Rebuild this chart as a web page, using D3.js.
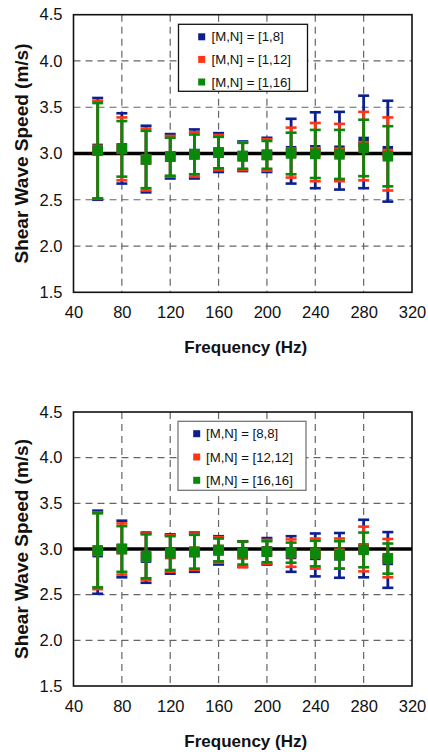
<!DOCTYPE html>
<html>
<head>
<meta charset="utf-8">
<script src="https://cdn.jsdelivr.net/npm/d3@7"></script>
<style>
  html, body { margin: 0; padding: 0; background: #fff; }
  svg { display: block; }
  text { font-family: Arial, "Liberation Sans", sans-serif; fill: #111; }
</style>
</head>
<body>
<script>
// Frequencies (Hz) shared by both panels
const freqs = [60, 80, 100, 120, 140, 160, 180, 200, 220, 240, 260, 280, 300];

// Panel A: [M,N] = [1,N] — mean shear wave speed and half-width of the error bar (m/s)
const meanA1 = [3.05, 3.055, 2.94, 2.97, 2.995, 3.01, 2.97, 2.985, 3.025, 3.035, 3.03, 3.125, 3.025];
const errA1  = [0.55, 0.38, 0.36, 0.24, 0.265, 0.21, 0.16, 0.185, 0.35, 0.41, 0.42, 0.50, 0.545];
const meanA2 = [3.04, 3.05, 2.935, 2.97, 2.99, 3.01, 2.97, 2.985, 3.01, 3.015, 3.01, 3.08, 2.995];
const errA2  = [0.53, 0.34, 0.335, 0.22, 0.24, 0.19, 0.15, 0.17, 0.27, 0.315, 0.31, 0.37, 0.395];
const meanA3 = [3.03, 3.05, 2.935, 2.965, 2.99, 3.01, 2.975, 2.985, 3.0, 2.995, 2.99, 3.06, 2.97];
const errA3  = [0.515, 0.30, 0.31, 0.205, 0.215, 0.17, 0.14, 0.15, 0.225, 0.26, 0.265, 0.305, 0.325];

// Panel B: [M,N] = [N,N]
const meanB1 = [2.965, 3.0, 2.905, 2.945, 2.965, 2.985, 2.945, 2.975, 2.945, 2.935, 2.93, 3.005, 2.88];
const errB1  = [0.455, 0.31, 0.275, 0.215, 0.215, 0.155, 0.14, 0.145, 0.195, 0.235, 0.245, 0.315, 0.305];
const meanB2 = [2.98, 3.0, 2.915, 2.95, 2.97, 2.99, 2.94, 2.97, 2.955, 2.95, 2.95, 3.0, 2.90];
const errB2  = [0.42, 0.28, 0.255, 0.20, 0.20, 0.14, 0.14, 0.13, 0.15, 0.165, 0.165, 0.245, 0.21];
const meanB3 = [2.985, 3.0, 2.92, 2.955, 2.97, 2.99, 2.955, 2.97, 2.96, 2.95, 2.935, 2.99, 2.895];
const errB3  = [0.405, 0.25, 0.24, 0.185, 0.185, 0.125, 0.125, 0.115, 0.11, 0.14, 0.15, 0.19, 0.165];

const labelsA = ["[M,N] = [1,8]", "[M,N] = [1,12]", "[M,N] = [1,16]"];
const labelsB = ["[M,N] = [8,8]", "[M,N] = [12,12]", "[M,N] = [16,16]"];

const xTicks = [40, 80, 120, 160, 200, 240, 280, 320];
const yTicks = [1.5, 2.0, 2.5, 3.0, 3.5, 4.0, 4.5];
const refSpeed = 3.0;

const colors = ["#0b1f8f", "#ff3514", "#0a880a"];

const W = 428, H = 752;
const svg = d3.select("body").append("svg").attr("width", W).attr("height", H);

function panel(opts) {
  const { top, bottom, series, labels, legend } = opts;
  const left = 73.5, right = 412;
  const x = d3.scaleLinear().domain([40, 320]).range([left, right]);
  const y = d3.scaleLinear().domain([1.5, 4.5]).range([bottom, top]);
  const g = svg.append("g");

  // dashed grid
  g.append("g").selectAll("line").data(xTicks.slice(1, -1)).join("line")
    .attr("x1", d => x(d)).attr("x2", d => x(d))
    .attr("y1", top).attr("y2", bottom)
    .attr("stroke", "#666").attr("stroke-width", 1.2).attr("stroke-dasharray", "7,5");
  g.append("g").selectAll("line").data(yTicks.slice(1, -1)).join("line")
    .attr("x1", left).attr("x2", right)
    .attr("y1", d => y(d)).attr("y2", d => y(d))
    .attr("stroke", "#666").attr("stroke-width", 1.2).attr("stroke-dasharray", "7,5");

  // axes (labels only, frame drawn separately)
  const xAxis = d3.axisBottom(x).tickValues(xTicks).tickSize(0).tickPadding(14).tickFormat(d3.format("d"));
  const yAxis = d3.axisLeft(y).tickValues(yTicks).tickSize(0).tickPadding(11).tickFormat(d3.format(".1f"));
  const gx = g.append("g").attr("transform", `translate(0,${bottom})`).call(xAxis);
  const gy = g.append("g").attr("transform", `translate(${left},0)`).call(yAxis);
  [gx, gy].forEach(a => {
    a.select(".domain").remove();
    a.selectAll("text").attr("font-size", 16.5).attr("fill", "#111")
      .style("font-family", 'Arial, "Liberation Sans", sans-serif');
  });

  // plot frame
  g.append("rect").attr("x", left).attr("y", top)
    .attr("width", right - left).attr("height", bottom - top)
    .attr("fill", "none").attr("stroke", "#111").attr("stroke-width", 1.6);

  // reference speed line
  g.append("line").attr("x1", left).attr("x2", right)
    .attr("y1", y(refSpeed)).attr("y2", y(refSpeed))
    .attr("stroke", "#000").attr("stroke-width", 3.6);

  // error bars + square markers, drawn blue -> red -> green
  const capW = 11, mk = 10.5;
  series.forEach((s, si) => {
    const c = colors[si];
    const pts = freqs.map((f, i) => ({ f, m: s.mean[i], e: s.err[i] }));
    const sg = g.append("g");
    sg.selectAll(".stem").data(pts).join("line")
      .attr("x1", d => x(d.f)).attr("x2", d => x(d.f))
      .attr("y1", d => y(d.m + d.e)).attr("y2", d => y(d.m - d.e))
      .attr("stroke", c).attr("stroke-width", 2.8);
    ["hi", "lo"].forEach(k => {
      sg.selectAll(".cap-" + k).data(pts).join("line")
        .attr("x1", d => x(d.f) - capW / 2).attr("x2", d => x(d.f) + capW / 2)
        .attr("y1", d => y(k === "hi" ? d.m + d.e : d.m - d.e))
        .attr("y2", d => y(k === "hi" ? d.m + d.e : d.m - d.e))
        .attr("stroke", c).attr("stroke-width", 2.6);
    });
    sg.selectAll("rect").data(pts).join("rect")
      .attr("x", d => x(d.f) - mk / 2).attr("y", d => y(d.m) - mk / 2)
      .attr("width", mk).attr("height", mk).attr("fill", c);
  });

  // legend
  const lg = g.append("g");
  lg.append("rect").attr("x", legend.x).attr("y", legend.y)
    .attr("width", legend.w).attr("height", legend.h)
    .attr("fill", "#fff").attr("stroke", legend.stroke).attr("stroke-width", 1.3);
  labels.forEach((t, i) => {
    const cy = legend.y + legend.row0 + i * legend.dy;
    lg.append("rect").attr("x", legend.mx - 3.5).attr("y", cy - 3.5)
      .attr("width", 7).attr("height", 7).attr("fill", colors[i]);
    lg.append("text").attr("x", legend.tx).attr("y", cy)
      .attr("dominant-baseline", "central").attr("font-size", 13.2).text(t);
  });

  // axis titles
  g.append("text").attr("x", (left + right) / 2 + 3).attr("y", bottom + 55)
    .attr("text-anchor", "middle").attr("dominant-baseline", "central")
    .attr("font-size", 17).attr("font-weight", "bold").text("Frequency (Hz)");
  g.append("text")
    .attr("transform", `translate(28,${(top + bottom) / 2}) rotate(-90)`)
    .attr("text-anchor", "middle")
    .attr("font-size", 19).attr("font-weight", "bold").text("Shear Wave Speed (m/s)");
}

panel({
  top: 14.7, bottom: 292.3,
  series: [{ mean: meanA1, err: errA1 }, { mean: meanA2, err: errA2 }, { mean: meanA3, err: errA3 }],
  labels: labelsA,
  legend: { x: 178.5, y: 24.3, w: 129, h: 67, row0: 12.5, dy: 22.6, mx: 201.7, tx: 211.5, stroke: "#111" }
});

panel({
  top: 412, bottom: 686,
  series: [{ mean: meanB1, err: errB1 }, { mean: meanB2, err: errB2 }, { mean: meanB3, err: errB3 }],
  labels: labelsB,
  legend: { x: 178, y: 421.3, w: 128, h: 69, row0: 12.4, dy: 23.3, mx: 196.7, tx: 206, stroke: "#777" }
});
</script>
</body>
</html>
